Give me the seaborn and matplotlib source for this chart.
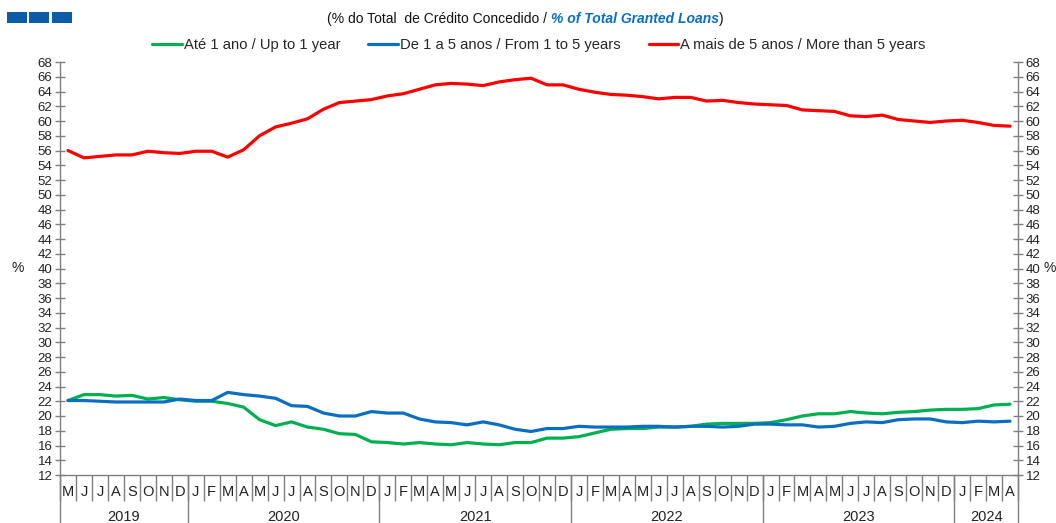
import pandas as pd
import matplotlib.pyplot as plt
import matplotlib.transforms as mtransforms
from matplotlib.patches import Rectangle
import seaborn as sns

months = ["M", "J", "J", "A", "S", "O", "N", "D"] + \
    ["J", "F", "M", "A", "M", "J", "J", "A", "S", "O", "N", "D"] * 4 + \
    ["J", "F", "M", "A"]
years = ["2019", "2020", "2021", "2022", "2023", "2024"]
year_len = [8, 12, 12, 12, 12, 4]

up_to_1 = [22.1, 22.9, 22.9, 22.7, 22.8, 22.3, 22.5, 22.2,
           22.0, 22.0, 21.7, 21.2, 19.5, 18.7, 19.2, 18.5, 18.2, 17.6, 17.5, 16.5,
           16.4, 16.2, 16.4, 16.2, 16.1, 16.4, 16.2, 16.1, 16.4, 16.4, 17.0, 17.0,
           17.2, 17.7, 18.2, 18.3, 18.3, 18.5, 18.5, 18.6, 18.9, 19.0, 19.0, 19.0,
           19.1, 19.5, 20.0, 20.3, 20.3, 20.6, 20.4, 20.3, 20.5, 20.6, 20.8, 20.9,
           20.9, 21.0, 21.5, 21.6]
one_to_5 = [22.1, 22.1, 22.0, 21.9, 21.9, 21.9, 21.9, 22.3,
            22.1, 22.1, 23.2, 22.9, 22.7, 22.4, 21.4, 21.3, 20.4, 20.0, 20.0, 20.6,
            20.4, 20.4, 19.6, 19.2, 19.1, 18.8, 19.2, 18.8, 18.2, 17.9, 18.3, 18.3,
            18.6, 18.5, 18.5, 18.5, 18.6, 18.6, 18.5, 18.6, 18.6, 18.5, 18.6, 18.9,
            18.9, 18.8, 18.8, 18.5, 18.6, 19.0, 19.2, 19.1, 19.5, 19.6, 19.6, 19.2,
            19.1, 19.3, 19.2, 19.3]
more_5 = [56.0, 55.0, 55.2, 55.4, 55.4, 55.9, 55.7, 55.6,
          55.9, 55.9, 55.1, 56.1, 58.0, 59.2, 59.7, 60.3, 61.6, 62.5, 62.7, 62.9,
          63.4, 63.7, 64.3, 64.9, 65.1, 65.0, 64.8, 65.3, 65.6, 65.8, 64.9, 64.9,
          64.3, 63.9, 63.6, 63.5, 63.3, 63.0, 63.2, 63.2, 62.7, 62.8, 62.5, 62.3,
          62.2, 62.1, 61.5, 61.4, 61.3, 60.7, 60.6, 60.8, 60.2, 60.0, 59.8, 60.0,
          60.1, 59.8, 59.4, 59.3]

labels = ["Até 1 ano / Up to 1 year", "De 1 a 5 anos / From 1 to 5 years",
          "A mais de 5 anos / More than 5 years"]
colors = ["#00B050", "#0A6FC2", "#FF0000"]

n = len(months)
df = pd.concat([
    pd.DataFrame({"t": range(n), "value": up_to_1, "series": labels[0]}),
    pd.DataFrame({"t": range(n), "value": one_to_5, "series": labels[1]}),
    pd.DataFrame({"t": range(n), "value": more_5, "series": labels[2]}),
])

sns.set_style("white")
plt.rcParams['font.family'] = ['Liberation Sans', 'DejaVu Sans']

fig = plt.figure(figsize=(10.56, 5.23), dpi=100)
ax = fig.add_axes([60 / 1056, 48 / 523, 958 / 1056, 413 / 523])

sns.lineplot(data=df, x="t", y="value", hue="series", palette=colors,
             linewidth=2.3, ax=ax)

grey = "#7f7f7f"
ax.set_xlim(-0.5, n - 0.5)
ax.set_ylim(12, 68)
ax.set_yticks(range(12, 69, 2))
ax.tick_params(axis="y", direction="inout", length=7, width=1, color=grey,
               left=True, right=True, labelleft=True, labelright=True,
               labelsize=9.5, labelcolor="#222222", pad=2)
ax.set_xticks(range(n))
ax.set_xticklabels(months)
ax.set_xticks([i - 0.5 for i in range(n + 1)], minor=True)
ax.tick_params(axis="x", which="major", length=0, labelsize=10.5,
               labelcolor="#222222", pad=7)
ax.tick_params(axis="x", which="minor", bottom=True, direction="out",
               length=19, width=1, color=grey)
ax.set_xlabel("")
ax.set_ylabel("%", rotation=0, fontsize=10, color="#222222", va="center")
ax.yaxis.set_label_coords(-0.0445, 0.5)

for side in ["left", "right", "bottom"]:
    ax.spines[side].set_color(grey)
    ax.spines[side].set_linewidth(1)
ax.spines["top"].set_visible(False)

trans = mtransforms.blended_transform_factory(ax.transData, ax.transAxes)
start = -0.5
for yr, ln in zip(years, year_len):
    ax.plot([start, start], [0, -0.14], transform=trans, color=grey,
            linewidth=1, clip_on=False)
    ax.text(start + ln / 2, -0.102, yr, transform=trans, ha="center",
            va="center", fontsize=10.5, color="#222222")
    start += ln
ax.plot([start, start], [0, -0.14], transform=trans, color=grey,
        linewidth=1, clip_on=False)

fig.text(1050 / 1056, 1 - 268 / 523, "%", ha="center", va="center",
         fontsize=10, color="#222222")

sns.move_legend(ax, "center", bbox_to_anchor=(0.5, 1.041), ncol=3,
                frameon=False, title=None, fontsize=10.6, handlelength=2.0,
                handletextpad=0.15, columnspacing=1.9)
for line in ax.get_legend().get_lines():
    line.set_linewidth(2.3)

# title in two styles
fig.canvas.draw()
renderer = fig.canvas.get_renderer()
t1 = fig.text(327 / 1056, 1 - 19 / 523, "(% do Total  de Crédito Concedido / ",
              ha="left", va="center", fontsize=10, color="#111111")
bb = t1.get_window_extent(renderer)
t2 = fig.text(bb.x1 / 1056, 1 - 19 / 523, "% of Total Granted Loans",
              ha="left", va="center", fontsize=10, color="#0A6FC2",
              fontweight="bold", fontstyle="italic")
bb2 = t2.get_window_extent(renderer)
fig.text(bb2.x1 / 1056, 1 - 19 / 523, ")", ha="left", va="center",
         fontsize=10, color="#111111")

for x0 in [7, 29, 52]:
    fig.patches.append(Rectangle((x0 / 1056, 1 - 23 / 523), 20 / 1056, 11 / 523,
                                 transform=fig.transFigure, facecolor="#0D5CA8",
                                 linewidth=0))

fig.savefig("out.png", dpi=100)
